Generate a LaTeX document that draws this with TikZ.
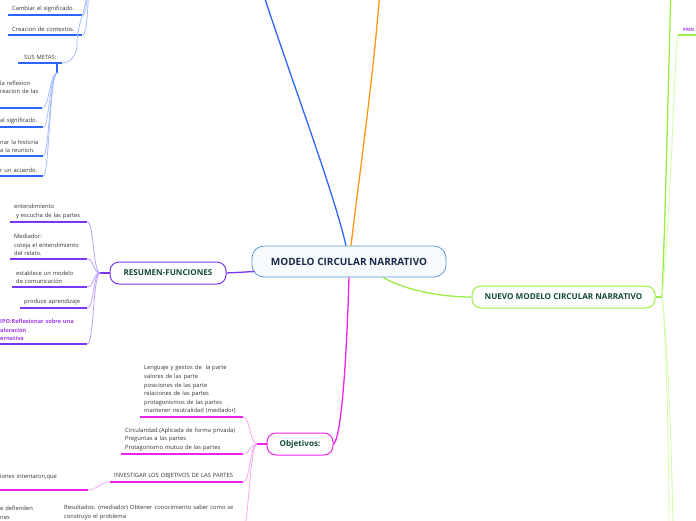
\documentclass[tikz,border=0pt]{standalone}
\usepackage{fontspec}
\setmainfont{Open Sans}
\usetikzlibrary{positioning}
\definecolor{coreline}{HTML}{5B9BD5}
\definecolor{corefill}{HTML}{F7FAFD}
\definecolor{coretext}{HTML}{1B2A4A}
\definecolor{topictext}{HTML}{134A3A}
\definecolor{leaftext}{HTML}{333333}
\definecolor{bluedark}{HTML}{2B66F6}
\definecolor{bluelight}{HTML}{A6BEFF}
\definecolor{orangebr}{HTML}{FF9912}
\definecolor{purpledark}{HTML}{7B36F2}
\definecolor{purplelight}{HTML}{BCA0FA}
\definecolor{purpletext}{HTML}{A13BEB}
\definecolor{magdark}{HTML}{EE22EE}
\definecolor{maglight}{HTML}{F6A6F6}
\definecolor{greendark}{HTML}{99EE44}
\definecolor{greenlight}{HTML}{D6FBB2}

\begin{document}
\begin{tikzpicture}[x=1pt,y=-1pt,
  core/.style={draw=coreline,fill=corefill,line width=0.8pt,rounded corners=12pt,
               minimum width=194pt,minimum height=31pt,
               font=\fontsize{10}{12}\selectfont\bfseries,text=coretext},
  topic/.style={draw=#1,fill=white,line width=1pt,rounded corners=9pt,
                minimum height=22pt,font=\fontsize{8.1}{10}\selectfont\bfseries,text=topictext},
  leaf/.style={anchor=south west,align=left,inner xsep=4pt,inner ysep=3pt,
               font=\fontsize{5.8}{8.6}\selectfont,text=leaftext},
  frag/.style={leaf,inner xsep=0pt},
  bul/.style={bluedark,line width=1.5pt},
  pul/.style={purpledark,line width=1.5pt},
  mul/.style={magdark,line width=1.5pt},
  blight/.style={bluelight,line width=0.8pt},
  plight/.style={purplelight,line width=0.8pt},
  mlight/.style={maglight,line width=0.8pt},
  glight/.style={greenlight,line width=0.9pt}
]
\fill[white] (0,0) rectangle (696,520);
\useasboundingbox (0,0) rectangle (696,520);
\clip (0,0) rectangle (696,520);

% main topics
\node[core] (core) at (349,261.5) {MODELO CIRCULAR NARRATIVO};
\node[topic=purpledark,minimum width=116pt] (res) at (168,273) {RESUMEN-FUNCIONES};
\node[topic=magdark,minimum width=66pt] (obj) at (300,444) {Objetivos:};
\node[topic=greendark,minimum width=183pt] (nuevo) at (563.5,297) {NUEVO MODELO CIRCULAR NARRATIVO};

% branches
\coordinate (btop) at (262,-10);
\coordinate (otop) at (380,-10);
\draw[bluedark,line width=1.3pt] ([xshift=-3pt]core.north) .. controls (333,190) and (295,90) .. (btop);
\draw[orangebr,line width=1.3pt] ([xshift=2pt]core.north) .. controls (360,170) and (373,80) .. (otop);
\draw[purpledark,line width=1.3pt] (res.east) -- ([xshift=3pt,yshift=-10pt]core.west);
\draw[magdark,line width=1.3pt] (core.south) .. controls (346,380) and (340,440) .. (obj.east);
\draw[greendark,line width=1.3pt] ([xshift=34pt]core.south) .. controls (405,290) and (440,297) .. (nuevo.west);

% blue part, top left
\node[leaf,text width=66pt] (cam) at (8,15) {Cambiar el significado.};
\node[leaf,text width=66pt] (cre) at (8,35) {Creacion de contextos.};
\node[leaf,text width=36pt,align=center] (sus) at (18,63) {SUS METAS:};
\node[frag,text width=42pt,inner ysep=14pt] (sm1) at (0,108) {la reflexion\\reacion de las};
\node[frag,text width=43pt] (sm2) at (0,127) {al significado.};
\node[frag,text width=43pt] (sm3) at (0,156) {nar la historia\\a la reunion.};
\node[frag,text width=43pt] (sm4) at (0,176) {r un acuerdo.};

\draw[bul] (cam.south west) -- (cam.south east);
\draw[bul] (cre.south west) -- (cre.south east);
\draw[bul] (sus.south west) -- (sus.south east);
\draw[bul] (sm1.south west) -- (sm1.south east);
\draw[bul] (sm2.south west) -- (sm2.south east);
\draw[bul] (sm3.south west) -- (sm3.south east);
\draw[bul] (sm4.south west) -- (sm4.south east);

\coordinate (bpar) at (89,-25);
\coordinate (sj) at (57,73);
\draw[blight] (bpar) .. controls (87,-5) and (87,15) .. (cam.south east);
\draw[blight] (bpar) .. controls (88,10) and (87,35) .. (cre.south east);
\draw[blight] (bpar) .. controls (87,15) and (77,20) .. (77,45) .. controls (77,55) and (70,63) .. (sus.south east);
\draw[bluedark,line width=1.2pt] (sus.south -| sj) -- (sj);
\draw[blight] (sj) .. controls (50,73) and (49,108) .. (sm1.south east);
\draw[blight] (sj) .. controls (50,73) and (49,127) .. (sm2.south east);
\draw[blight] (sj) .. controls (50,73) and (49,156) .. (sm3.south east);
\draw[blight] (sj) .. controls (50,73) and (49,176) .. (sm4.south east);

% purple part
\node[leaf,text width=69pt] (ra) at (10,222) {entendimiento\\\ y escucha de las partes};
\node[leaf,text width=69pt] (rb) at (10,259) {Mediador:\\coteja el entendimiento\\del relato.};
\node[leaf,text width=67pt] (rc) at (12,287) {establece un modelo\\de comunicación};
\node[leaf,text width=59pt] (rd) at (20,308) {produce aprendizaje};
\node[frag,text width=87pt,text=purpletext,font=\fontsize{5.6}{8.6}\selectfont\bfseries] (re) at (0,344)
  {IPO:Reflexionar sobre una\\aloracion\\ernativa};

\draw[pul] (ra.south west) -- (ra.south east);
\draw[pul] (rb.south west) -- (rb.south east);
\draw[pul] (rc.south west) -- (rc.south east);
\draw[pul] (rd.south west) -- (rd.south east);
\draw[pul] (re.south west) -- (re.south east);

\coordinate (rj) at (100,273);
\draw[purpledark,line width=1.2pt] (res.west) -- (rj);
\draw[plight] (rj) .. controls (93,273) and (94,222) .. (ra.south east);
\draw[plight] (rj) .. controls (93,273) and (94,259) .. (rb.south east);
\draw[plight] (rj) .. controls (93,273) and (94,287) .. (rc.south east);
\draw[plight] (rj) .. controls (93,273) and (94,308) .. (rd.south east);
\draw[plight] (rj) .. controls (93,273) and (94,344) .. (re.south east);

% magenta part
\node[leaf,text width=95pt] (oa) at (140,417) {Lenguaje y gestos de \ la parte\\valores de las parte\\posiciones de las parte\\relaciones de las partes\\protagonismos de las partes\\mantener neutralidad (mediador)};
\node[leaf,text width=114pt] (ob) at (121,454) {Circularidad.(Aplicada de forma privada)\\Preguntas a las partes\\Protagonismo mutuo de las partes};
\node[leaf,text width=125pt] (oc) at (110,482) {INVESTIGAR LOS OBJETIVOS DE LAS PARTES};
\node[frag,text width=88pt,inner ysep=10pt] (od) at (0,490) {iones intentaron,que};
\node[leaf,text width=175pt,inner ysep=11pt] (oe) at (60,531) {Resultados: (mediador) Obtener conocimiento saber como se\\construyo el problema};
\node[frag,text width=40pt,inner ysep=10.5pt] (of) at (0,530) {e defienden\\nes};

\draw[mul] (oa.south west) -- (oa.south east);
\draw[mul] (ob.south west) -- (ob.south east);
\draw[mul] (oc.south west) -- (oc.south east);
\draw[mul] (od.south west) -- (od.south east);

\coordinate (oj) at (257,444);
\draw[magdark,line width=1.2pt] (obj.west) -- (oj);
\draw[mlight] (oj) .. controls (250,444) and (250,417) .. (oa.south east);
\draw[mlight] (oj) .. controls (250,444) and (250,454) .. (ob.south east);
\draw[mlight] (oj) .. controls (250,444) and (250,482) .. (oc.south east);
\draw[mlight] (oj) .. controls (250,444) and (249,520) .. (oe.south east);
\draw[mlight] (oc.south west) .. controls (100,482) and (97,490) .. (od.south east);

% green part, right
\node[leaf,inner xsep=5pt,text width=30pt,text=purpletext,font=\fontsize{4.5}{6}\selectfont\bfseries] (prin) at (678,35) {PRIN};
\draw[greendark,line width=1.5pt] (prin.south west) -- (prin.south east);

\coordinate (gj) at (662,297);
\coordinate (gtop) at (671,-10);
\coordinate (gbot1) at (669,530);
\coordinate (gbot2) at (673,530);
\draw[greendark,line width=1.2pt] (nuevo.east) -- (gj);
\draw[greendark,line width=1.3pt] (gj) .. controls (666,200) and (669,50) .. (gtop);
\draw[glight] (gj) .. controls (672,200) and (675,35) .. (prin.south west);
\draw[glight] (gj) .. controls (666,330) and (669,450) .. (gbot1);
\draw[glight] (gj) .. controls (667,330) and (672,450) .. (gbot2);
\end{tikzpicture}
\end{document}
